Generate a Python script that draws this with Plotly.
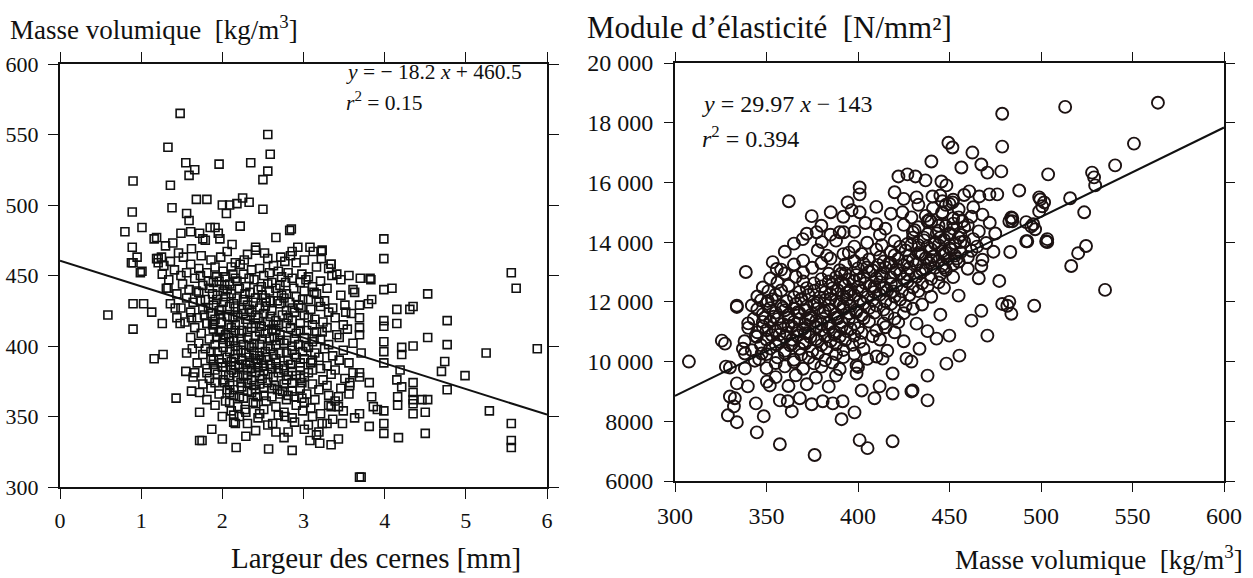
import plotly.graph_objects as go

W, H = 1253, 578

# ---------------- Data: left panel (ring width [mm] vs density [kg/m3]) ----------------
left_outliers = [
    (1.48,565),(1.33,541),(1.36,514),(0.90,517),(0.89,495),(1.38,498),(1.55,530),(1.66,525),(1.59,521),
    (1.96,529),(2.35,530),(2.56,550),(2.59,536),(2.56,524),(2.50,518),(2.50,497),(1.68,504),(1.81,504),
    (1.56,494),(1.59,489),(2.00,500),(2.09,500),(2.05,494),(2.18,501),(2.25,505),(2.33,502),(0.80,481),
    (1.01,484),(1.16,476),(1.19,477),(1.39,473),(1.49,480),(1.61,481),(1.72,480),(1.76,476),(1.79,475),
    (1.85,484),(1.91,484),(1.95,480),(1.97,476),(2.22,485),(2.66,477),(2.85,483),(0.89,470),(0.95,463),
    (0.90,459),(1.01,453),(1.19,462),(1.25,463),(2.41,470),(2.86,467),(3.08,470),(3.22,467),(3.22,462),
    (3.34,458),(3.99,476),(3.99,462),(3.56,450),(3.70,448),(3.82,448),
    (5.56,452),(5.62,441),(5.88,398),(5.25,395),(5.29,354),(5.56,345),(5.56,333),(5.56,328),(4.99,379),
    (4.77,418),(4.77,401),(4.77,369),(4.74,389),(4.70,382),(4.53,437),(4.53,406),(4.53,362),(4.46,362),
    (4.35,362),(4.50,353),(4.50,338),(4.35,374),(4.35,367),(4.35,359),(4.35,352),(4.35,400),(4.35,428),
    (4.31,426),(4.21,399),(4.21,394),(4.19,383),(4.21,371),(4.15,376),(4.15,426),(4.15,416),(4.16,364),
    (4.16,358),(4.17,335),(4.09,441),(3.99,440),(3.99,403),(3.99,396),(3.99,388),(3.99,418),(3.99,414),
    (3.99,354),(3.99,345),(3.99,338),(3.91,355),(3.86,357),(3.84,364),(3.81,374),(3.81,343),(3.69,307),
    (3.71,307),(3.69,352),(3.63,349),(3.83,447),(3.63,438),(3.84,433),(3.80,430),(3.69,429),(3.52,424),
    (3.69,420),(3.69,413),(3.69,408),(3.69,381),(3.69,378),(3.57,374),(3.57,372),(3.48,345),(3.43,334),
    (3.34,330),(3.20,331),(3.08,333),(3.43,364),(3.43,357),(3.34,357),(3.23,345),(2.86,326),(2.57,327),
    (2.17,328),(2.00,334),(1.87,341),(1.75,333),(2.81,339),(2.62,345),(2.14,346),(2.00,350),(2.77,350),
    (3.35,450),(3.34,458),(3.23,468),(2.83,482),
    (0.59,422),(0.90,430),(1.03,430),(1.13,424),(0.90,412),(1.26,416),(1.16,391),(1.27,394),(1.43,363),
    (1.63,398),(1.55,382),(1.64,378),(1.62,368),(1.72,367),(1.72,353),(1.72,333),(2.16,345),(1.33,441),
    (1.42,427),(1.44,420),(1.48,416),(1.62,420),(0.99,452),(0.88,459),(1.21,459),(1.81,416),(1.89,416),
    (1.89,390),(2.00,385),(1.81,381),(2.09,367),(2.09,360),(2.14,351),(2.28,355),(2.38,360),(2.46,352),
]

left_core = [
    (1.30,471),(1.62,469),(2.12,472),(2.41,468),(2.93,470),(3.12,467),
    (1.46,466),(1.74,464),(2.06,467),(2.31,465),(2.72,463),
    (1.21,462),(1.36,460),(1.52,463),(1.86,461),(2.16,459),(2.56,462),(2.77,460),(3.01,461),
    (1.28,457),(1.61,458),(1.91,456),(2.22,458),(2.46,455),(2.63,457),(2.91,459),(3.16,456),
    (1.41,454),(1.56,452),(1.71,455),(2.01,453),(2.11,456),(2.36,454),(2.69,453),(3.31,455),
    (1.26,451),(1.49,450),(1.81,452),(2.04,449),(2.26,451),(2.51,450),(2.81,452),(3.06,449),(3.41,451),
    (1.34,447),(1.66,448),(1.96,446),(2.16,448),(2.39,447),(2.61,445),(2.86,448),(3.21,446),(3.46,447),
    (1.51,444),(1.76,443),(1.89,445),(2.09,444),(2.29,442),(2.56,444),(2.71,443),(2.96,445),(3.11,442),
    (1.31,441),(1.59,440),(1.84,441),(2.01,439),(2.21,441),(2.44,440),(2.66,441),(3.01,439),(3.29,441),(3.61,440),
    (1.44,437),(1.71,438),(1.94,436),(2.11,437),(2.34,438),(2.49,436),(2.79,437),(2.91,435),(3.16,437),(3.46,436),
    (1.56,434),(1.79,433),(2.04,435),(2.26,433),(2.41,434),(2.59,432),(2.76,434),(3.06,433),(3.26,432),
    (1.36,430),(1.64,431),(1.89,429),(2.01,431),(2.14,430),(2.31,429),(2.54,431),(2.71,430),(2.94,429),(3.19,431),(3.51,429),
    (1.49,427),(1.76,426),(2.09,428),(2.24,426),(2.46,427),(2.61,425),(2.86,427),(3.09,426),(3.36,427),
    (1.61,424),(1.86,423),(1.96,425),(2.19,422),(2.36,424),(2.51,423),(2.74,422),(2.89,424),(3.01,422),(3.31,424),(3.59,423),
    (1.69,420),(1.91,419),(2.06,421),(2.29,419),(2.44,420),(2.66,418),(2.81,420),(3.14,419),(3.39,420),
    (1.54,417),(1.81,416),(1.99,417),(2.16,415),(2.41,416),(2.56,417),(2.69,415),(2.96,416),(3.24,417),(3.49,415),
    (1.66,413),(1.89,412),(2.11,413),(2.24,411),(2.36,413),(2.61,412),(2.84,413),(3.04,411),(3.29,413),(3.54,412),
    (1.74,409),(1.96,410),(2.04,408),(2.21,409),(2.46,410),(2.71,408),(2.91,409),(3.16,410),(3.41,408),
    (1.61,406),(1.84,405),(2.01,406),(2.14,404),(2.31,406),(2.49,405),(2.64,406),(2.79,404),(3.01,406),(3.21,405),(3.44,406),
    (1.71,402),(1.91,401),(2.09,403),(2.26,401),(2.39,402),(2.56,400),(2.76,402),(2.94,401),(3.11,403),(3.31,401),(3.61,402),
    (1.79,398),(2.01,399),(2.19,397),(2.36,399),(2.59,398),(2.86,397),(3.06,399),(3.26,398),(3.49,397),
    (1.56,395),(1.76,394),(1.94,396),(2.16,394),(2.29,395),(2.46,393),(2.71,395),(2.89,394),(3.14,395),(3.36,393),(3.71,395),
    (1.86,391),(2.06,392),(2.24,390),(2.41,391),(2.54,392),(2.81,390),(3.01,391),(3.19,392),(3.44,390),
    (1.69,388),(1.89,387),(2.11,389),(2.21,387),(2.34,388),(2.51,386),(2.66,388),(2.84,387),(3.09,388),(3.29,386),(3.56,388),
    (1.81,384),(2.04,385),(2.31,383),(2.44,385),(2.61,384),(2.76,383),(2.96,385),(3.21,384),(3.39,383),
    (1.66,381),(1.94,380),(2.14,381),(2.26,379),(2.41,381),(2.56,380),(2.69,381),(2.91,379),(3.06,381),(3.34,380),(3.61,381),
    (1.84,377),(2.01,376),(2.19,378),(2.36,376),(2.49,377),(2.79,376),(3.01,378),(3.24,376),(3.51,377),
    (1.76,373),(1.91,374),(2.09,372),(2.31,374),(2.46,373),(2.64,372),(2.86,374),(3.11,373),(3.29,372),
    (1.86,370),(2.06,369),(2.24,371),(2.41,369),(2.61,370),(2.74,368),(2.96,370),(3.19,369),(3.46,370),
    (1.96,366),(2.14,365),(2.36,367),(2.51,365),(2.71,366),(2.89,364),(3.04,366),(3.31,365),(3.56,366),
    (1.81,362),(2.04,361),(2.26,363),(2.54,361),(2.79,362),(3.01,360),(3.14,362),(3.39,361),
    (1.91,358),(2.19,357),(2.41,359),(2.66,357),(2.91,358),(3.09,356),(3.31,358),
    (2.11,354),(2.29,353),(2.51,355),(2.76,353),(2.99,354),(3.21,352),(3.49,354),
    (2.21,350),(2.44,349),(2.69,351),(2.86,349),(3.11,350),(3.36,348),
    (2.31,345),(2.56,344),(2.89,346),(3.06,344),(3.29,345),
    (2.41,340),(2.66,339),(3.01,341),(3.19,339),
    (2.29,336),(2.76,335),(3.16,337),
]

left_core_dense = [
    (1.98,463),(2.27,461),(2.52,466),(2.84,464),
    (1.73,450),(1.93,449),(2.13,451),(2.33,448),(2.58,452),(2.73,449),(2.98,451),
    (1.83,446),(2.03,443),(2.18,446),(2.48,442),(2.78,445),(3.03,447),
    (1.68,439),(1.88,437),(2.06,440),(2.28,437),(2.58,439),(2.73,436),(2.88,441),(3.13,438),
    (1.73,432),(1.93,433),(2.18,434),(2.38,431),(2.53,434),(2.68,432),(2.83,431),(2.99,433),
    (1.83,427),(1.99,426),(2.16,427),(2.33,426),(2.53,428),(2.79,425),(2.97,427),(3.21,428),
    (1.78,422),(1.98,422),(2.13,420),(2.26,423),(2.41,422),(2.59,421),(2.86,418),(3.06,420),
    (1.88,415),(2.08,415),(2.31,416),(2.48,414),(2.63,415),(2.79,416),(3.11,415),
    (1.98,411),(2.16,411),(2.31,410),(2.53,409),(2.66,411),(2.96,411),(3.23,410),
    (1.93,406),(2.08,406),(2.23,405),(2.41,407),(2.58,405),(2.71,404),(2.89,405),(3.13,405),
    (2.01,402),(2.16,400),(2.33,400),(2.46,401),(2.66,401),(2.86,400),(3.03,400),
    (1.86,396),(2.09,396),(2.23,397),(2.39,395),(2.53,396),(2.63,394),(2.79,395),(2.99,396),
    (1.96,391),(2.14,391),(2.33,392),(2.48,390),(2.66,391),(2.91,392),(3.11,390),
    (1.99,388),(2.16,386),(2.29,387),(2.43,388),(2.59,387),(2.76,386),(2.96,388),
    (1.91,383),(2.11,383),(2.21,385),(2.36,384),(2.51,382),(2.69,384),(2.86,382),(3.11,383),
    (2.08,379),(2.31,379),(2.46,379),(2.63,378),(2.81,379),(2.96,377),
    (2.03,374),(2.23,374),(2.39,372),(2.56,374),(2.76,373),(2.98,374),
    (2.14,369),(2.31,368),(2.51,370),(2.68,369),(2.86,368),
    (2.21,364),(2.43,364),(2.61,364),(2.81,365),(2.98,363),
]

left_slope, left_intercept = -18.2, 460.5
left_xrange = [0, 6]
left_yrange = [300, 600]
left_xticks = [0, 1, 2, 3, 4, 5, 6]
left_yticks = [300, 350, 400, 450, 500, 550, 600]

# ---------------- Data: right panel (density vs modulus of elasticity) ----------------
right_outliers = [
    (478.8,18300),(478.8,17200),(449.4,17330),(451.6,17170),(462.5,17000),(456.5,16500),(467.4,16600),
    (470.7,16330),(478.3,16370),(440.1,16700),(422.1,16200),(427.0,16270),(431.4,16200),(436.9,16070),
    (420.0,15670),(400.9,15830),(400.9,15600),(394.3,15330),(396.5,15070),(362.2,15370),(374.7,14870),
    (385.1,15000),(400.9,15000),(410.1,14600),(424.3,15000),(429.2,14830),(445.6,16030),(448.3,15900),
    (440.7,15530),(446.1,15370),(451.6,15330),(460.8,15700),(466.3,15530),(471.8,15600),(476.1,15600),
    (488.1,15730),(499.0,15500),(501.7,15330),(503.9,16270),(483.8,14830),(482.7,14700),(491.9,14670),
    (494.7,14530),(492.5,14030),(502.8,14030),(338.7,13000),(333.8,11870),(353.4,13330),(355.6,13100),
    (369.8,14100),(377.4,14330),(380.2,14000),(390.0,14330),(392.2,14330),(477.2,12700),(478.8,11930),
    (481.6,11870),(496.3,11870),(467.4,13200),
    (513.2,18530),(563.9,18670),(550.8,17300),(540.5,16570),(527.9,16330),(529.0,16170),(529.6,15900),
    (515.9,15470),(523.6,15000),(499.6,15430),(500.7,15200),(499.0,15030),(495.8,14600),(496.8,14430),
    (491.9,14030),(503.4,14100),(503.4,14000),(484.3,14800),(484.3,14700),(483.2,13670),(524.6,13870),
    (520.3,13630),(516.5,13200),(535.0,12400),(482.7,12000),(483.8,11600),
    (307.6,10000),(333.8,11830),(325.6,10700),(327.3,10600),(327.8,9830),(330.0,9800),(333.8,9270),
    (338.2,9770),(339.8,9170),(330.0,8830),(332.7,8770),(332.2,8500),(328.9,8200),(333.8,7970),
    (344.2,8600),(348.5,8170),(344.7,7630),(357.3,7230),(376.3,6870),(400.9,7370),(405.2,7100),
    (418.9,7330),(391.0,8070),(398.1,8300),(438.0,8700),(429.2,9000),(438.0,9530),(409.0,8770),
    (418.9,8930),(411.8,9170),(402.0,9030),(448.3,9930),(455.4,10200),(470.7,10870),(462.0,11370),
    (467.4,11700),(442.9,10770),(449.9,10870),(433.6,10430),(410.1,10170),(413.4,10100),(426.5,10100),
    (429.2,10000),(418.9,9600),(429.8,9030),(399.2,9870),(399.2,9600),(391.6,8670),(386.2,8600),
    (380.7,8670),(374.7,8570),(368.2,8770),(363.8,8330),(361.6,8670),(357.3,8700),(350.2,9330),
    (351.8,9200),(344.7,10830),(343.6,10030),(347.4,10270),(337.1,10430),(338.2,10270),(350.7,12030),
    (348.0,11330),
]

right_core = [
    (425,15450),(445,15560),(452,15420),(458,15580),
    (410,15180),(433,15250),(441,15130),(450,15280),(463,15170),
    (392,14850),(418,14950),(437,14880),(446,14970),(455,14830),(468,14920),
    (380,14550),(404,14640),(425,14580),(440,14680),(448,14540),(452,14620),(460,14570),(472,14650),
    (372,14280),(398,14350),(412,14250),(430,14330),(438,14270),(444,14380),(450,14300),(456,14240),(466,14360),(475,14290),
    (365,13950),(388,14050),(405,13980),(420,14030),(427,13940),(436,14060),(442,13990),(447,14080),(453,13960),(458,14020),(470,13970),
    (360,13680),(378,13730),(395,13650),(410,13750),(418,13680),(426,13720),(433,13640),(440,13760),(446,13690),(451,13740),(456,13660),(462,13710),(474,13680),
    (370,13380),(385,13450),(398,13360),(406,13420),(414,13350),(422,13440),(430,13390),(437,13460),(444,13370),(449,13430),(455,13350),(468,13410),
    (358,13080),(375,13140),(390,13060),(400,13120),(408,13050),(415,13150),(421,13090),(428,13130),(435,13070),(442,13140),(448,13060),(460,13110),
    (352,12780),(366,12840),(380,12760),(388,12830),(395,12750),(403,12850),(410,12790),(418,12820),(425,12760),(432,12840),(440,12770),(452,12830),(466,12790),
    (348,12480),(362,12540),(372,12460),(380,12520),(386,12450),(393,12550),(400,12490),(407,12530),(414,12460),(421,12540),(430,12480),(438,12520),(447,12470),
    (345,12180),(355,12240),(365,12160),(373,12230),(379,12150),(385,12250),(392,12190),(398,12220),(405,12160),(412,12240),(420,12180),(428,12230),(440,12170),(455,12210),
    (342,11880),(350,11940),(358,11860),(366,11930),(372,11850),(378,11950),(384,11890),(390,11920),(396,11860),(403,11940),(410,11880),(418,11930),(426,11870),(435,11910),
    (348,11580),(355,11640),(362,11560),(368,11630),(374,11550),(381,11650),(388,11590),(395,11620),(402,11560),(409,11640),(416,11580),(425,11620),(445,11570),
    (340,11280),(352,11340),(359,11260),(365,11330),(371,11250),(377,11350),(384,11290),(391,11320),(398,11260),(406,11340),(414,11280),(422,11320),(432,11270),
    (345,10980),(355,11040),(361,10960),(367,11030),(373,10950),(380,11050),(387,10990),(394,11020),(402,10960),(410,11040),(420,10980),(438,11020),
    (338,10680),(350,10740),(357,10660),(364,10730),(370,10650),(377,10750),(385,10690),(393,10720),(401,10660),(412,10740),(425,10680),
    (342,10380),(352,10440),(360,10360),(368,10430),(375,10350),(383,10450),(392,10390),(403,10420),(416,10360),
    (346,10080),(356,10140),(365,10060),(373,10130),(382,10050),(392,10150),(405,10090),
    (350,9780),(360,9840),(370,9760),(380,9830),(390,9750),(400,9820),
    (355,9480),(366,9540),(377,9460),(388,9530),
    (362,9180),(372,9240),(384,9160),
]

right_core_dense = [
    (432,15500),(448,15250),(455,15100),(439,14750),(457,14700),(462,14850),
    (385,14250),(415,14450),(433,14500),(445,14150),(452,14450),(463,14100),
    (398,13850),(413,13900),(423,13850),(430,14150),(438,13850),(444,13900),(450,13800),(455,14150),(465,13850),
    (383,13550),(392,13600),(402,13600),(412,13500),(420,13560),(428,13550),(435,13580),(441,13520),(447,13600),(453,13550),(460,13500),
    (365,13250),(380,13300),(393,13250),(403,13280),(411,13240),(418,13300),(425,13230),(432,13260),(439,13300),(446,13220),(452,13260),
    (360,12950),(370,12980),(384,12940),(393,12950),(399,12900),(406,13000),(413,12930),(420,12980),(427,12920),(434,12960),(445,12920),
    (356,12650),(370,12680),(376,12620),(384,12680),(391,12640),(398,12700),(404,12620),(412,12660),(418,12600),(427,12680),(435,12620),(444,12650),
    (351,12350),(358,12380),(368,12330),(376,12370),(382,12320),(389,12390),(395,12340),(402,12360),(409,12330),(416,12380),(424,12350),(433,12360),
    (347,12050),(353,12080),(361,12020),(369,12070),(376,12010),(382,12060),(388,12030),(394,12080),(401,12030),(408,12060),(415,12020),(423,12080),
    (345,11750),(352,11790),(360,11720),(365,11770),(371,11720),(378,11780),(385,11740),(392,11760),(399,11720),(406,11790),(414,11740),(430,11770),
    (343,11430),(349,11470),(356,11420),(362,11480),(368,11420),(374,11460),(381,11430),(388,11470),(395,11440),(403,11450),(420,11440),
    (340,11130),(348,11170),(358,11120),(364,11180),(370,11100),(377,11160),(384,11120),(391,11150),(400,11120),(415,11150),
    (344,10850),(353,10880),(360,10820),(367,10870),(374,10820),(382,10860),(390,10840),(398,10870),(408,10850),
    (347,10550),(355,10580),(363,10540),(371,10590),(380,10550),(388,10580),(397,10560),
    (350,10250),(360,10280),(369,10230),(378,10270),(388,10250),(398,10260),
    (355,9950),(365,9980),(376,9940),(386,9970),
]

right_core_dark = [
    (350,11050),(354,11500),(357,10900),(359,11800),(362,11200),(364,10600),(367,11650),(369,12100),
    (371,10950),(373,11400),(376,11900),(378,10700),(380,11250),(382,11700),(385,12100),(387,10900),
    (389,11450),(392,11850),(394,12300),(396,11100),(399,11650),
    (386,12600),(391,12950),(396,12400),(401,12750),(405,13150),(409,12500),(413,12850),(417,13300),
    (419,12350),(423,12950),
    (427,13350),(429,13900),(431,14400),(434,13600),(436,14150),(438,14700),(440,13400),(442,13950),
    (444,14550),(446,15000),(448,13650),(450,14250),(452,14800),(454,13450),(456,14000),(458,14500),
    (447,13150),(437,13100),(433,13900),(443,14300),
]

right_slope, right_intercept = 29.97, -143
right_xrange = [300, 600]
right_yrange = [6000, 20000]
right_xticks = [300, 350, 400, 450, 500, 550, 600]
right_yticks = [6000, 8000, 10000, 12000, 14000, 16000, 18000, 20000]
right_yticklabels = ["6000", "8000", "10 000", "12 000", "14 000", "16 000", "18 000", "20 000"]

# ---------------- Figure ----------------
FONT = "Liberation Serif"
INK = "#111111"

def px_x(p):
    return p / W

def px_y(p):
    return 1 - p / H

left_pts = left_outliers + left_core + left_core_dense
right_pts = right_outliers + right_core + right_core_dense + right_core_dark
lx = [p[0] for p in left_pts]
ly = [p[1] for p in left_pts]
rx = [p[0] for p in right_pts]
ry = [p[1] for p in right_pts]

fig = go.Figure()

fig.add_trace(go.Scatter(
    x=lx, y=ly, mode="markers", xaxis="x", yaxis="y",
    marker=dict(symbol="square-open", size=8, color=INK, line=dict(width=1.6, color=INK)),
    showlegend=False, hoverinfo="skip"))
fig.add_trace(go.Scatter(
    x=left_xrange, y=[left_slope * v + left_intercept for v in left_xrange],
    mode="lines", xaxis="x", yaxis="y", line=dict(color=INK, width=2),
    showlegend=False, hoverinfo="skip"))

fig.add_trace(go.Scatter(
    x=rx, y=ry, mode="markers", xaxis="x2", yaxis="y2",
    marker=dict(symbol="circle-open", size=12, color="#1c1212", line=dict(width=1.9, color="#1c1212")),
    showlegend=False, hoverinfo="skip"))
fig.add_trace(go.Scatter(
    x=right_xrange, y=[right_slope * v + right_intercept for v in right_xrange],
    mode="lines", xaxis="x2", yaxis="y2", line=dict(color=INK, width=2),
    showlegend=False, hoverinfo="skip"))

axis_common = dict(
    showline=True, linewidth=2, linecolor=INK, mirror="ticks",
    ticks="outside", tickwidth=1.2, tickcolor=INK,
    showgrid=False, zeroline=False, automargin=False,
)

fig.update_layout(
    template="none",
    font=dict(family=FONT, color=INK),
    width=W, height=H,
    margin=dict(l=0, r=0, t=0, b=0, pad=0),
    paper_bgcolor="white", plot_bgcolor="white",
    xaxis=dict(domain=[px_x(60), px_x(547)], range=left_xrange, tickvals=left_xticks,
               ticklen=10, ticklabelstandoff=3,
               tickfont=dict(family=FONT, size=22, color=INK), anchor="y", **axis_common),
    yaxis=dict(domain=[px_y(487), px_y(64)], range=left_yrange, tickvals=left_yticks,
               ticklen=10, ticklabelstandoff=5,
               tickfont=dict(family=FONT, size=22, color=INK), anchor="x", **axis_common),
    xaxis2=dict(domain=[px_x(675), px_x(1224)], range=right_xrange, tickvals=right_xticks,
                ticklen=9, ticklabelstandoff=3,
                tickfont=dict(family=FONT, size=24, color=INK), anchor="y2", **axis_common),
    yaxis2=dict(domain=[px_y(481), px_y(63)], range=right_yrange, tickvals=right_yticks,
                ticktext=right_yticklabels, ticklen=9, ticklabelstandoff=6,
                tickfont=dict(family=FONT, size=24, color=INK), anchor="x2", **axis_common),
)

annots = [
    dict(text="Masse volumique\u00a0 [kg/m<sup>3</sup>]", x=px_x(8), y=px_y(28), xanchor="left", size=27),
    dict(text="Module d\u2019élasticité\u00a0 [N/mm²]", x=px_x(585), y=px_y(28), xanchor="left", size=31),
    dict(text="Largeur des cernes [mm]", x=px_x(229), y=px_y(558), xanchor="left", size=29),
    dict(text="Masse volumique\u00a0 [kg/m<sup>3</sup>]", x=px_x(1245), y=px_y(558), xanchor="right", size=27),
    dict(text="<i>y</i> = \u2212 18.2 <i>x</i> + 460.5", x=px_x(344), y=px_y(72), xanchor="left", size=21.5),
    dict(text="<i>r</i><sup>2</sup> = 0.15", x=px_x(344), y=px_y(101), xanchor="left", size=21.5),
    dict(text="<i>y</i> = 29.97 <i>x</i> \u2212 143", x=px_x(700), y=px_y(104), xanchor="left", size=24),
    dict(text="<i>r</i><sup>2</sup> = 0.394", x=px_x(700), y=px_y(137), xanchor="left", size=24),
]
for a in annots:
    fig.add_annotation(text=a["text"], x=a["x"], y=a["y"], xref="paper", yref="paper",
                       xanchor=a["xanchor"], yanchor="middle", showarrow=False,
                       font=dict(family=FONT, size=a["size"], color=INK))

fig.write_html("out.html")
